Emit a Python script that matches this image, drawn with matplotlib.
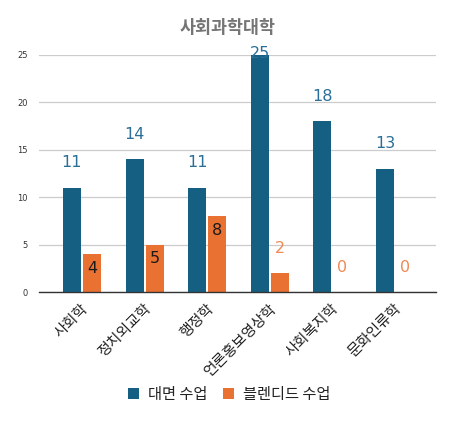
import matplotlib
matplotlib.use("Agg")
import matplotlib.pyplot as plt
import matplotlib.transforms as mtransforms
import numpy as np

plt.rcParams['font.family'] = ['Noto Sans CJK KR', 'DejaVu Sans']

categories = ['사회학', '정치외교학', '행정학', '언론홍보영상학', '사회복지학', '문화인류학']
face_to_face = [11, 14, 11, 25, 18, 13]
blended = [4, 5, 8, 2, 0, 0]
series_names = ['대면 수업', '블렌디드 수업']
yticks = [0, 5, 10, 15, 20, 25]

BLUE = '#156082'
ORANGE = '#E97132'

W, H = 456, 421
fig = plt.figure(figsize=(W / 100, H / 100), dpi=100)
ax = fig.add_axes([39 / W, (H - 292) / H, (436 - 39) / W, (292 - 55) / H])

x = np.arange(len(categories))
bw = 0.29
off = 0.16
b1 = ax.bar(x - off, face_to_face, bw, color=BLUE, label=series_names[0], zorder=3)
b2 = ax.bar(x + off, blended, bw, color=ORANGE, label=series_names[1], zorder=3)

ax.set_xlim(-0.687, 5.655)
ax.set_ylim(0, 25)
ax.set_yticks(yticks)
ax.set_yticklabels([str(t) for t in yticks], fontsize=6, color='#333333', family='DejaVu Sans')
ax.tick_params(axis='y', length=0, pad=8)
ax.tick_params(axis='x', length=0, pad=10.5)
ax.set_xticks(x)
ax.set_xticklabels(categories, rotation=45, ha='right', va='center', rotation_mode='anchor',
                   fontsize=10.7, color='#222222')
shift = mtransforms.ScaledTranslation(4 / 100, 0, fig.dpi_scale_trans)
for lab in ax.get_xticklabels():
    lab.set_transform(lab.get_transform() + shift)

ax.grid(axis='y', color='#cccccc', linewidth=0.9, zorder=0)
for s in ['top', 'right', 'left']:
    ax.spines[s].set_visible(False)
ax.spines['bottom'].set_color('#333333')
ax.spines['bottom'].set_linewidth(1.0)
ax.spines['bottom'].set_zorder(4)

for xi, v in zip(x - off, face_to_face):
    dy = 25 if v < 22 else 2
    ax.annotate(str(v), (xi, v), xytext=(0, dy), textcoords='offset pixels',
                ha='center', va='center', fontsize=11.5, color='#2a6f97',
                family='DejaVu Sans', annotation_clip=False, zorder=5)
for xi, v in zip(x + off, blended):
    if v >= 4:
        dy, col = -14, '#1a1a1a'
    else:
        dy, col = 25, '#EE8A55'
    ax.annotate(str(v), (xi, v), xytext=(0, dy), textcoords='offset pixels',
                ha='center', va='center', fontsize=11.5, color=col,
                family='DejaVu Sans', annotation_clip=False, zorder=5)

fig.text(0.5, 1 - 28 / H, '사회과학대학', ha='center', va='center', fontsize=12.5,
         fontweight='bold', color='#757575')

fig.legend(handles=[b1, b2], labels=series_names, loc='center',
           bbox_to_anchor=(229 / W, 1 - 394 / H), ncol=2, frameon=False,
           fontsize=11, handlelength=0.72, handleheight=0.72, handletextpad=0.6,
           columnspacing=1.0, labelcolor='#222222')

fig.savefig('out.png', dpi=100)
